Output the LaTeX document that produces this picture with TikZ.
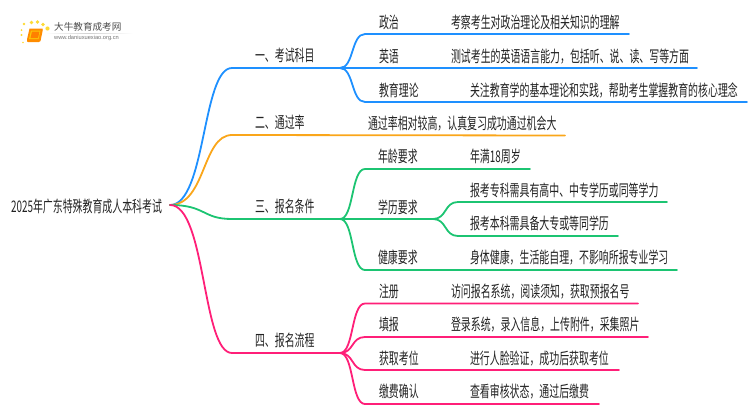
\documentclass[tikz,border=0pt]{standalone}
\usepackage{fontspec}
\usetikzlibrary{calc}
\newfontfamily\cjk[FakeStretch=0.62]{Noto Sans CJK SC}
\newfontfamily\cjklogo{Noto Sans CJK SC}
\setmainfont{Liberation Sans}
\definecolor{cblue}{HTML}{1E90FF}
\definecolor{corange}{HTML}{FAA61A}
\definecolor{cgreen}{HTML}{1CC472}
\definecolor{cpink}{HTML}{FF1F78}
\definecolor{ctext}{HTML}{222222}
\tikzset{
  lab/.style={anchor=west,inner sep=0pt,outer sep=0pt,yshift=-1.2pt,text=ctext,text height=12pt,text depth=2pt,font=\cjk\fontsize{16}{18}\selectfont},
  bough/.style={line width=1.8pt,line cap=round},
  curved/.style={to path={.. controls ($(\tikztostart)+(#1,0)$) and ($(\tikztotarget)-(#1,0)$) .. (\tikztotarget)}},
  curved/.default=14,
  rootcurve/.style={to path={.. controls ($(\tikztostart)+(36,0)$) and ($(\tikztotarget)-(30,0)$) .. (\tikztotarget)}},
}
\begin{document}
\begin{tikzpicture}[x=1pt,y=-1pt]
\useasboundingbox (0,0) rectangle (750,410);
% logo
\fill[left color=white,right color=white,middle color=gray!35] (45,33) rectangle (133,33.8);
\foreach \x/\y/\r in {21.5/35/1.1,24/24/1.3,31.5/22.5/1.8,37.5/22/1.9,43/24.5/1.8,47.5/28.5/2.1,23/42.5/0.8,21.5/30/1}
  \fill[yellow!70!orange!80] (\x,\y) circle (\r);
\fill[orange!90!yellow] (29.5,28.5) -- (42.5,28.5) .. controls (43,28.5) and (43,29) .. (42.8,30) -- (40.5,41) .. controls (40.2,42) and (39.5,42.2) .. (38.5,42.2) -- (28.5,42.2) .. controls (27,42.2) and (26.5,41) .. (27,39.5) -- cycle;
\fill[yellow!60!orange] (31,30.5) -- (40.5,30.5) -- (38.6,39) -- (29,39) -- cycle;
\fill[orange] (32,31.5) -- (39.5,31.5) -- (38,38) -- (30.5,38) -- cycle;
\node[anchor=west,inner sep=0pt,text=black!70,font=\cjklogo\fontsize{9.6}{11}\selectfont] (logotitle) at (54,27) {大牛教育成考网};
\node[anchor=west,inner sep=0pt,text=black!55,font=\fontsize{5.7}{7}\selectfont] (logourl) at (54,38.5) {www.daniuxuexiao.org.cn};
% root
\node[lab] (root) at (11,206.5) {2025年广东特殊教育成人本科考试};
\coordinate (o) at (170,205);
% level 1 labels
\node[lab] (a) at (255,55) {一、考试科目};
\node[lab] (b) at (255,122) {二、通过率};
\node[lab] (c) at (255,206) {三、报名条件};
\node[lab] (d) at (255,340) {四、报名流程};
% junctions
\coordinate (a0) at (232,68); \coordinate (a1) at (340,68);
\coordinate (b0) at (232,135);
\coordinate (c0) at (232,219); \coordinate (c1) at (340,219);
\coordinate (d0) at (232,353); \coordinate (d1) at (340,353);
% blue subtree
\node[lab] (a1t) at (379,22) {政治};
\node[lab] (a1d) at (451,22) {考察考生对政治理论及相关知识的理解};
\node[lab] (a2t) at (379,56) {英语};
\node[lab] (a2d) at (451,56) {测试考生的英语语言能力，包括听、说、读、写等方面};
\node[lab] (a3t) at (379,90) {教育理论};
\node[lab] (a3d) at (470,90) {关注教育学的基本理论和实践，帮助考生掌握教育的核心理念};
\coordinate (a1s) at (365,34); \coordinate (a1e) at (629,34);
\coordinate (a2e) at (697,68);
\coordinate (a3s) at (365,102); \coordinate (a3e) at (747,102);
% orange
\node[lab] (b1d) at (368,123) {通过率相对较高，认真复习成功通过机会大};
\coordinate (be) at (565,135.5);
% green subtree
\node[lab] (c1t) at (378,156) {年龄要求};
\node[lab] (c1d) at (470,156) {年满18周岁};
\node[lab] (c2t) at (378,207) {学历要求};
\node[lab] (c2a) at (470,190) {报考专科需具有高中、中专学历或同等学力};
\node[lab] (c2b) at (470,223) {报考本科需具备大专或等同学历};
\node[lab] (c3t) at (378,257) {健康要求};
\node[lab] (c3d) at (470,257) {身体健康，生活能自理，不影响所报专业学习};
\coordinate (c1s) at (365,169); \coordinate (c1e) at (530,169);
\coordinate (c2j) at (433,219);
\coordinate (c2as) at (458,202); \coordinate (c2ae) at (667,202);
\coordinate (c2bs) at (458,236); \coordinate (c2be) at (618,236);
\coordinate (c3s) at (365,270); \coordinate (c3e) at (677,270);
% pink subtree
\node[lab] (d1t) at (379,291) {注册};
\node[lab] (d1d) at (451,291) {访问报名系统，阅读须知，获取预报名号};
\node[lab] (d2t) at (379,324) {填报};
\node[lab] (d2d) at (451,324) {登录系统，录入信息，上传附件，采集照片};
\node[lab] (d3t) at (379,358) {获取考位};
\node[lab] (d3d) at (470,358) {进行人脸验证，成功后获取考位};
\node[lab] (d4t) at (379,391) {缴费确认};
\node[lab] (d4d) at (470,391) {查看审核状态，通过后缴费};
\coordinate (d1s) at (365,303.5); \coordinate (d1e) at (638,303.5);
\coordinate (d2s) at (365,337); \coordinate (d2e) at (648,337);
\coordinate (d3s) at (365,370); \coordinate (d3e) at (619,370);
\coordinate (d4s) at (365,404); \coordinate (d4e) at (599,404);
% connectors
\draw[bough,cblue] (o) to[rootcurve] (a0) -- (a1);
\draw[bough,cblue] (a1) to[curved] (a1s) -- (a1e);
\draw[bough,cblue] (a1) -- (a2e);
\draw[bough,cblue] (a1) to[curved] (a3s) -- (a3e);
\draw[bough,corange] (o) to[rootcurve] (b0) -- (be);
\draw[bough,cgreen] (o) to[rootcurve] (c0) -- (c1);
\draw[bough,cgreen] (c1) to[curved] (c1s) -- (c1e);
\draw[bough,cgreen] (c1) -- (c2j);
\draw[bough,cgreen] (c2j) to[curved] (c2as) -- (c2ae);
\draw[bough,cgreen] (c2j) to[curved] (c2bs) -- (c2be);
\draw[bough,cgreen] (c1) to[curved] (c3s) -- (c3e);
\draw[bough,cpink] (o) to[rootcurve] (d0) -- (d1);
\draw[bough,cpink] (d1) to[curved] (d1s) -- (d1e);
\draw[bough,cpink] (d1) to[curved] (d2s) -- (d2e);
\draw[bough,cpink] (d1) to[curved] (d3s) -- (d3e);
\draw[bough,cpink] (d1) to[curved] (d4s) -- (d4e);
\end{tikzpicture}
\end{document}
